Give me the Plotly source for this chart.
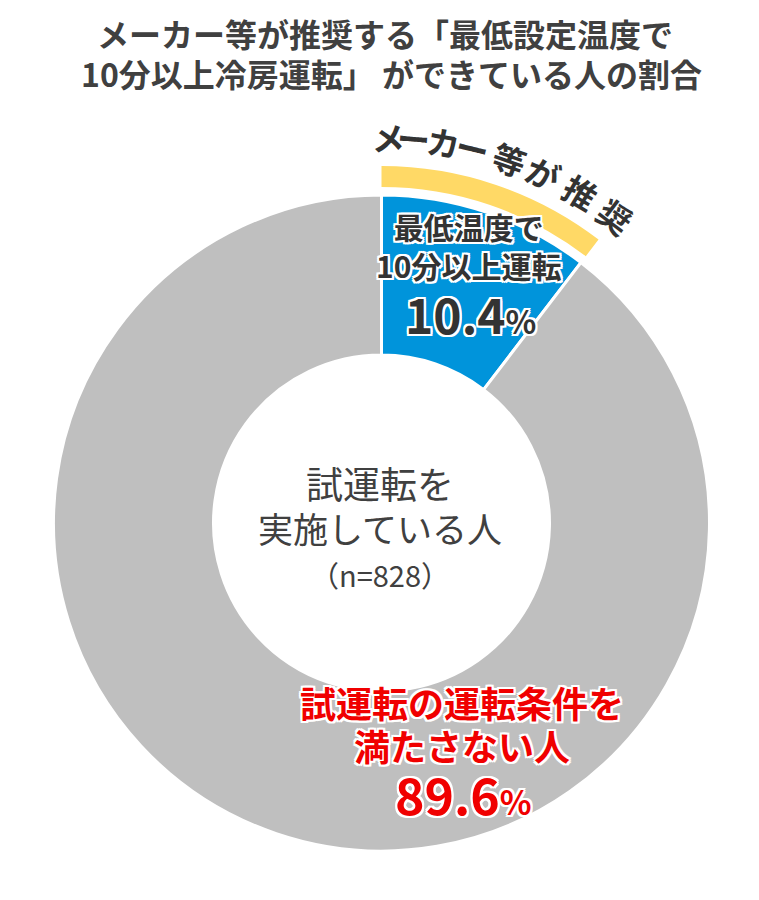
import math
import plotly.graph_objects as go

# ---- data ----
labels = ["最低温度で10分以上運転", "試運転の運転条件を満たさない人"]
values = [10.4, 89.6]
slice_colors = ["#0094DB", "#BFBFBF"]
recommend_values = [10.4, 89.6]
recommend_colors = ["#FFD966", "rgba(0,0,0,0)"]
title_lines = ["メーカー等が推奨する「最低設定温度で", "10分以上冷房運転」 ができている人の割合"]
arc_chars = list("メーカー等が推奨")
arc_angles = [1.0, 4.8, 9.3, 13.7, 19.3, 24.8, 31.0, 37.3]
center_lines = ["試運転を", "実施している人", "（n=828）"]
blue_label = ["最低温度で", "10分以上運転"]
blue_pct = "10.4"
red_label = ["試運転の運転条件を", "満たさない人"]
red_pct = "89.6"

W, H = 759, 900
FONT = "Noto Sans CJK JP"
cx, cy = 381.5, 523.0
R_outer, R_hole = 328.0, 168.0
R_y_out, R_y_in = 357.0, 336.0


def px(x):
    return x / W


def py(y):
    return 1 - y / H


def dom(r):
    return dict(x=[px(cx - r), px(cx + r)], y=[py(cy + r), py(cy - r)])


fig = go.Figure()
fig.add_trace(go.Pie(
    values=recommend_values, labels=["推奨", ""], sort=False, direction="clockwise",
    rotation=0, hole=R_y_in / R_y_out, domain=dom(R_y_out),
    marker=dict(colors=recommend_colors, line=dict(width=0)),
    textinfo="none", hoverinfo="skip", showlegend=False,
))
fig.add_trace(go.Pie(
    values=values, labels=labels, sort=False, direction="clockwise",
    rotation=0, hole=R_hole / R_outer, domain=dom(R_outer),
    marker=dict(colors=slice_colors, line=dict(color="white", width=3)),
    textinfo="none", showlegend=False,
))

outline_w = ("2px 0 0 #fff, -2px 0 0 #fff, 0 2px 0 #fff, 0 -2px 0 #fff, "
             "2px 2px 0 #fff, -2px -2px 0 #fff, 2px -2px 0 #fff, -2px 2px 0 #fff")

ann = []


def add(text, x, y, size, color, bold=False, angle=0, shadow="none"):
    ann.append(dict(
        text=text, x=px(x), y=py(y), xref="paper", yref="paper",
        showarrow=False, textangle=angle, xanchor="center", yanchor="middle",
        font=dict(family=FONT, size=size, color=color, weight=700 if bold else 400, shadow=shadow),
    ))


def sp(t, s):
    return f"<span style='font-size:{s}px'>{t}</span>"


# title
add(title_lines[0], 385, 33, 32, "#404040", bold=True)
add(title_lines[1], 391, 73, 32, "#404040", bold=True)

# arc text
for ch, a in zip(arc_chars, arc_angles):
    r = 386
    x = cx + r * math.sin(math.radians(a))
    y = cy - r * math.cos(math.radians(a))
    add(ch, x, y, 33, "#333333", bold=True, angle=a)

# center text (one block)
add(sp(center_lines[0], 37) + "<br>" + sp(center_lines[1], 35) + "<br>" + sp(center_lines[2], 29),
    380, 525, 34, "#404040")

# blue label
add("<br>".join(blue_label), 468, 246, 30, "#333333", bold=True, shadow=outline_w)
add(sp(blue_pct, 48) + sp("%", 32), 470, 313, 48, "#333333", bold=True, shadow=outline_w)

# red label
add(sp(red_label[0], 36) + "<br>" + sp(red_label[1], 36), 462, 723, 33, "#F00000", bold=True, shadow=outline_w)
add(sp(red_pct, 50) + sp("%", 33), 463, 793, 50, "#F00000", bold=True, shadow=outline_w)

fig.update_layout(
    width=W, height=H, margin=dict(l=0, r=0, t=0, b=0),
    paper_bgcolor="white", plot_bgcolor="white",
    annotations=ann, showlegend=False,
)
fig.write_html("out.html", config={"displayModeBar": False},
               post_script="document.body.style.margin='0';")
